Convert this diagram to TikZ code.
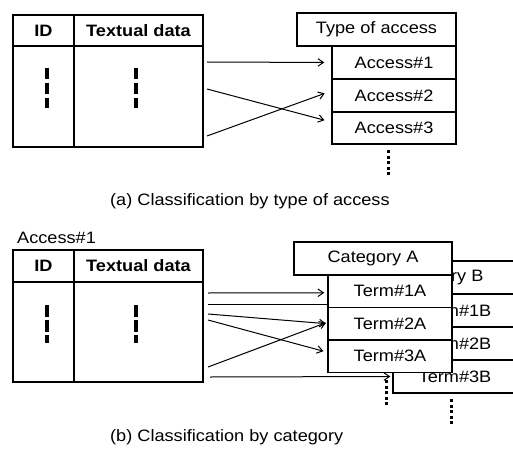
\documentclass[tikz,border=0pt]{standalone}
\usepackage{fontspec}
\setmainfont{Liberation Sans}[FakeStretch=1.1]
\usetikzlibrary{arrows.meta,calc}
\begin{document}
\begin{tikzpicture}[x=1pt,y=-1pt,
  txt/.style={font=\fontsize{16.5}{19}\selectfont},
  box/.style={draw, line width=1.4pt, fill=white, inner sep=0pt, txt},
  cell/.style={draw, line width=1.3pt, inner sep=0pt, txt},
  hcell/.style={cell, font=\fontsize{16.5}{19}\selectfont\bfseries},
  conn/.style={line width=1pt, -{Straight Barb[length=5.5pt,width=7.5pt]}},
  vdash/.style={line width=3.4pt, dash pattern=on 11.5pt off 3.5pt},
  vdots/.style={line width=3pt, dash pattern=on 3pt off 2.5pt}]
\useasboundingbox (0,0) rectangle (513,449);
\clip (0,0) rectangle (513,449);

% ---------- (a) ----------
\node[hcell, minimum width=61pt, minimum height=31pt] (aidh) at (43.5,30.5) {ID};
\node[hcell, minimum width=129pt, minimum height=31pt] (atxh) at (138.5,30.5) {Textual data};
\node[cell, minimum width=61pt, minimum height=101pt] (aidb) at (43.5,96.5) {};
\node[cell, minimum width=129pt, minimum height=101pt] (atxb) at (138.5,96.5) {};
\draw[vdash] (47,68) -- (47,108);
\draw[vdash] (136,68) -- (136,108);

\node[box, minimum width=159pt, minimum height=33pt] (toa) at (376.5,29.5) {Type of access};
\node[box, minimum width=124pt, minimum height=33pt] (acc1) at (394,62.5) {Access\#1};
\node[box, minimum width=124pt, minimum height=33pt] (acc2) at (394,95.5) {Access\#2};
\node[box, minimum width=124pt, minimum height=32pt] (acc3) at (394,128) {Access\#3};
\draw[vdots] (388,150) -- (388,177);

\coordinate (as1) at (207,62);
\coordinate (as2) at (207,89);
\coordinate (as3) at (207,136);
\draw[conn, shorten >=7pt] (as1) -- (acc1.west);
\draw[conn, shorten >=7pt] (as2) -- ([yshift=6pt]acc3.west);
\draw[conn, shorten >=7pt] (as3) -- ([yshift=4.5pt]acc2.west);

\node[txt, anchor=base west, inner sep=0pt] (capa) at (110,205) {(a) Classification by type of access};

% ---------- (b) ----------
\node[txt, anchor=base west, inner sep=0pt] (lab) at (17,243) {Access\#1};
\node[hcell, minimum width=61pt, minimum height=32pt] (bidh) at (43.5,266) {ID};
\node[hcell, minimum width=129pt, minimum height=32pt] (btxh) at (138.5,266) {Textual data};
\node[cell, minimum width=61pt, minimum height=100pt] (bidb) at (43.5,332) {};
\node[cell, minimum width=129pt, minimum height=100pt] (btxb) at (138.5,332) {};
\draw[vdash] (47,305) -- (47,343);
\draw[vdash] (136,305) -- (136,343);

% category B (behind)
\node[box, minimum width=158pt, minimum height=33pt] (catb) at (438,277.5) {Category B};
\node[box, minimum width=124pt, minimum height=33pt] (t1b) at (455,310.5) {Term\#1B};
\node[box, minimum width=124pt, minimum height=33pt] (t2b) at (455,343.5) {Term\#2B};
\node[box, minimum width=124pt, minimum height=33pt] (t3b) at (455,376.5) {Term\#3B};
\draw[vdots] (451,399) -- (451,426);

% arrows passing behind category A
\coordinate (bs1) at (208,293);
\coordinate (bs2) at (208,304);
\coordinate (bs3) at (208,314);
\coordinate (bs4) at (208,320);
\coordinate (bs5) at (208,367);
\coordinate (bs6) at (210,377);
\draw[conn] (bs2) -- ([yshift=6.5pt]t1b.west);
\draw[conn, shorten >=2pt] (bs6) -- (t3b.west);

% category A (front)
\node[box, minimum width=158pt, minimum height=33pt] (cata) at (373,258.5) {Category A};
\node[box, minimum width=124pt, minimum height=32.5pt] (t1a) at (390,291.25) {Term\#1A};
\node[box, minimum width=124pt, minimum height=32.5pt] (t2a) at (390,323.75) {Term\#2A};
\node[box, minimum width=124pt, minimum height=32.5pt] (t3a) at (390,356.25) {Term\#3A};
\draw[vdots] (386,380) -- (386,406);

\draw[conn, shorten >=3pt] (bs1) -- ([yshift=-1.5pt]t1a.west);
\draw[conn, shorten >=1.5pt] (bs3) -- (t2a.west);
\draw[conn, shorten >=4pt] (bs4) -- ([yshift=4pt]t3a.west);
\draw[conn, shorten >=1.5pt] (bs5) -- ([yshift=1.5pt]t2a.west);

\node[txt, anchor=base west, inner sep=0pt] (capb) at (110,441) {(b) Classification by category};
\end{tikzpicture}
\end{document}
